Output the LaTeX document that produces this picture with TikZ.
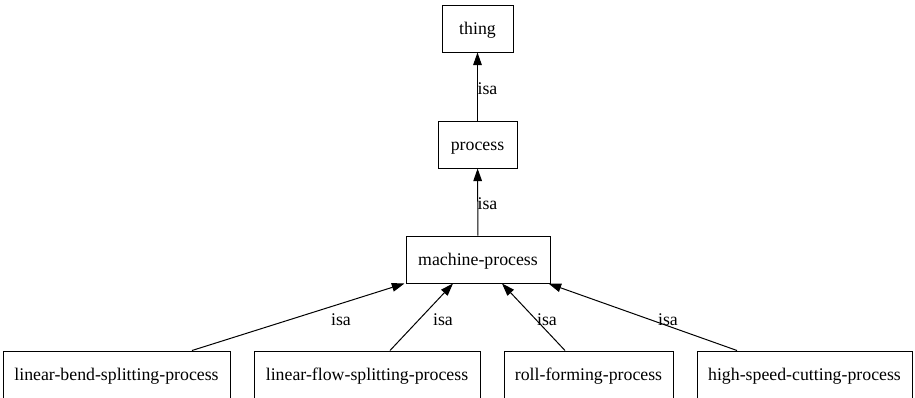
\documentclass[tikz,border=0pt]{standalone}
\usepackage{fontspec}
\setmainfont{Liberation Serif}
\usepackage{tikz}
\usetikzlibrary{shapes,arrows.meta,positioning,calc}

\begin{document}
\begin{tikzpicture}[
        x=0.75pt, y=-0.75pt,
        concept/.style={rectangle, draw, line width=0.75pt, minimum height=35.25pt, inner sep=0pt, text height=9.5pt, text depth=0pt, align=center, font=\fontsize{13.35}{16}\selectfont},
        isa/.style={-{Triangle[length=9.5pt, width=6.5pt]}, line width=0.75pt},
        lbl/.style={inner sep=0pt, font=\fontsize{13.35}{16}\selectfont}
    ]
        \useasboundingbox (0,0) rectangle (915,397);
        \clip (0,0) rectangle (915,397);

        \node[concept, minimum width=53.25pt] (thing) at (477.5,28.5) {thing};
        \node[concept, minimum width=59.25pt] (process) at (477.5,144.5) {process};
        \node[concept, minimum width=108pt] (mp) at (478,259.5) {machine-process};
        \node[concept, minimum width=170.25pt] (lbsp) at (116.5,374.5) {linear-bend-splitting-process};
        \node[concept, minimum width=169.5pt] (lfsp) at (367,374.5) {linear-flow-splitting-process};
        \node[concept, minimum width=126.75pt] (rfp) at (588.5,374.5) {roll-forming-process};
        \node[concept, minimum width=161.25pt] (hscp) at (804.5,374.5) {high-speed-cutting-process};

        \draw[isa] (process) -- (thing);
        \draw[isa] (mp) -- (process);
        \draw[isa] ($(lbsp.north)+(75.5,0)$) -- ($(mp.south west)+(-1,0)$);
        \draw[isa] ($(lfsp.north)+(23,0)$) -- ($(mp.south)+(-25,0)$);
        \draw[isa] ($(rfp.north)+(-23.5,0)$) -- ($(mp.south)+(24,0)$);
        \draw[isa] ($(hscp.north)+(-67.5,0)$) -- ($(mp.south east)+(-2,0)$);

        \node[lbl] (isa1) at (487.5,89) {isa};
        \node[lbl] (isa2) at (487.5,204) {isa};
        \node[lbl] (isa3) at (341,320) {isa};
        \node[lbl] (isa4) at (443,320) {isa};
        \node[lbl] (isa5) at (547,320) {isa};
        \node[lbl] (isa6) at (668,320) {isa};
    \end{tikzpicture}
\end{document}
